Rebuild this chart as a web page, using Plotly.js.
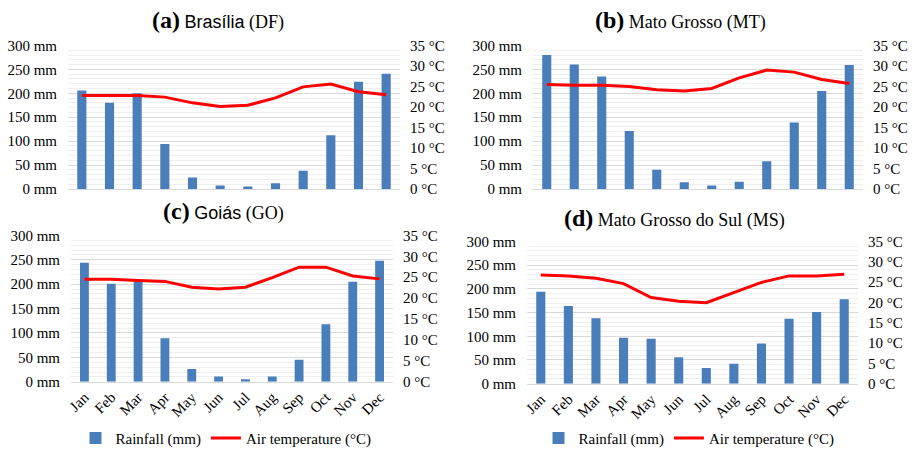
<!DOCTYPE html>
<html><head><meta charset="utf-8">
<script src="https://cdn.plot.ly/plotly-3.0.1.min.js"></script>
<style>html,body{margin:0;padding:0;background:#fff}#chart{width:915px;height:455px}</style>
</head><body><div id="chart"></div>
<script>
const months = ['Jan','Feb','Mar','Apr','May','Jun','Jul','Aug','Sep','Oct','Nov','Dec'];
const rainDF = [206,180,200,94,24,7,5,12,38,112,224,241];
const tempDF = [22.8,22.8,22.8,22.4,21.0,20.1,20.4,22.2,24.9,25.6,23.7,23.0];
const rainMT = [280,260,235,121,40,14,7,15,58,139,205,259];
const tempMT = [25.5,25.3,25.3,25.0,24.2,23.9,24.5,27.1,29.0,28.5,26.7,25.7];
const rainGO = [244,201,206,89,26,11,5,11,45,118,205,248];
const tempGO = [24.5,24.5,24.2,24.0,22.6,22.2,22.6,24.9,27.4,27.4,25.3,24.6];
const rainMS = [194,164,138,97,95,56,33,42,85,137,151,178];
const tempMS = [26.7,26.5,25.9,24.6,21.2,20.3,19.9,22.4,24.9,26.5,26.5,26.9];
const rainTicks = [0,50,100,150,200,250,300];
const tempTicks = [0,5,10,15,20,25,30,35];
const panelTitles = [
  ['(a)','Brasília','(DF)'],
  ['(b)','Mato Grosso','(MT)'],
  ['(c)','Goiás','(GO)'],
  ['(d)','Mato Grosso do Sul','(MS)']
];
const legendNames = ['Rainfall (mm)','Air temperature (°C)'];

const BLUE = '#4a7ebb', RED = '#ff0000';
const SERIF = 'Liberation Serif';
const SANS = 'Liberation Sans';
const panels = [
  {rain: rainDF, temp: tempDF, x:[68,400], y:[46,191], months:false, leg:null},
  {rain: rainMT, temp: tempMT, x:[533,863], y:[46,191], months:false, leg:null},
  {rain: rainGO, temp: tempGO, x:[71,393], y:[238,386], months:true, leg:'legend'},
  {rain: rainMS, temp: tempMS, x:[527,858], y:[244,388], months:true, leg:'legend2'}
];
const titlePos = [[218,20],[680,20],[223,213],[674,220]];
const W = 915, H = 455;
const traces = [];
const layout = {
  width: W, height: H, margin:{l:0,r:0,t:0,b:0},
  paper_bgcolor:'#fff', plot_bgcolor:'#fff',
  font:{family:SERIF, color:'#000', size:14},
  bargap: 0.67,
  annotations: [],
  legend:{orientation:'h', x:226/W, y:1-443/H, xanchor:'center', yanchor:'middle', font:{size:15, family:SERIF}, itemwidth:30, tracegroupgap:0},
  legend2:{orientation:'h', x:689/W, y:1-443/H, xanchor:'center', yanchor:'middle', font:{size:15, family:SERIF}, itemwidth:30, tracegroupgap:0}
};
panels.forEach((p,i)=>{
  const n = i+1;
  const xa = 'x'+(n===1?'':n), ya = 'y'+(2*n-1===1?'':(2*n-1)), yb = 'y'+(2*n);
  traces.push({type:'bar', x:months, y:p.rain, xaxis:xa, yaxis:ya, marker:{color:BLUE},
    name:legendNames[0], showlegend: !!p.leg, legend: p.leg||'legend', hoverinfo:'skip'});
  traces.push({type:'scatter', mode:'lines', x:months, y:p.temp, xaxis:xa, yaxis:yb,
    line:{color:RED, width:3}, name:legendNames[1], showlegend: !!p.leg, legend: p.leg||'legend', hoverinfo:'skip'});
  const xk = 'xaxis'+(n===1?'':n), yk = 'yaxis'+(2*n-1===1?'':(2*n-1)), yk2 = 'yaxis'+(2*n);
  layout[xk] = {domain:[p.x[0]/W, p.x[1]/W], anchor: ya, type:'category',
    range:[-0.5,11.5], showticklabels:p.months, tickangle:-45, tickfont:{size:15, family:SERIF},
    showgrid:false, showline:true, linecolor:'#d9d9d9', ticks:'', zeroline:false, fixedrange:true};
  layout[yk] = {domain:[1-p.y[1]/H, 1-p.y[0]/H], anchor:xa, range:[0,300], tickvals:rainTicks,
    ticktext: rainTicks.map(v=>v+' mm'), showgrid:true, gridcolor:'#d9d9d9', gridwidth:1,
    minor:{dtick:10, showgrid:true, gridcolor:'#efefef', gridwidth:1},
    zeroline:false, showline:false, ticks:'', ticklabelstandoff:10, tickfont:{size:15, family:SERIF}, fixedrange:true};
  layout[yk2] = {domain:[1-p.y[1]/H, 1-p.y[0]/H], anchor:xa, overlaying:ya, side:'right', range:[0,35],
    tickvals:tempTicks, ticktext: tempTicks.map(v=>v+' °C'), showgrid:false, zeroline:false,
    ticks:'', ticklabelstandoff:9, tickfont:{size:15, family:SERIF}, fixedrange:true};
  const t = panelTitles[i];
  const fam = (i===0||i===2) ? SANS : SERIF;
  layout.annotations.push({xref:'paper', yref:'paper', x:titlePos[i][0]/W, y:1-titlePos[i][1]/H,
    xanchor:'center', yanchor:'middle', showarrow:false,
    text:'<b><span style="font-size:24px">'+t[0]+'</span></b> <span style="font-family:'+fam+'">'+t[1]+'</span> '+t[2],
    font:{family:SERIF, size:18, color:'#000'}});
});
Plotly.newPlot('chart', traces, layout, {staticPlot:true});
</script></body></html>
